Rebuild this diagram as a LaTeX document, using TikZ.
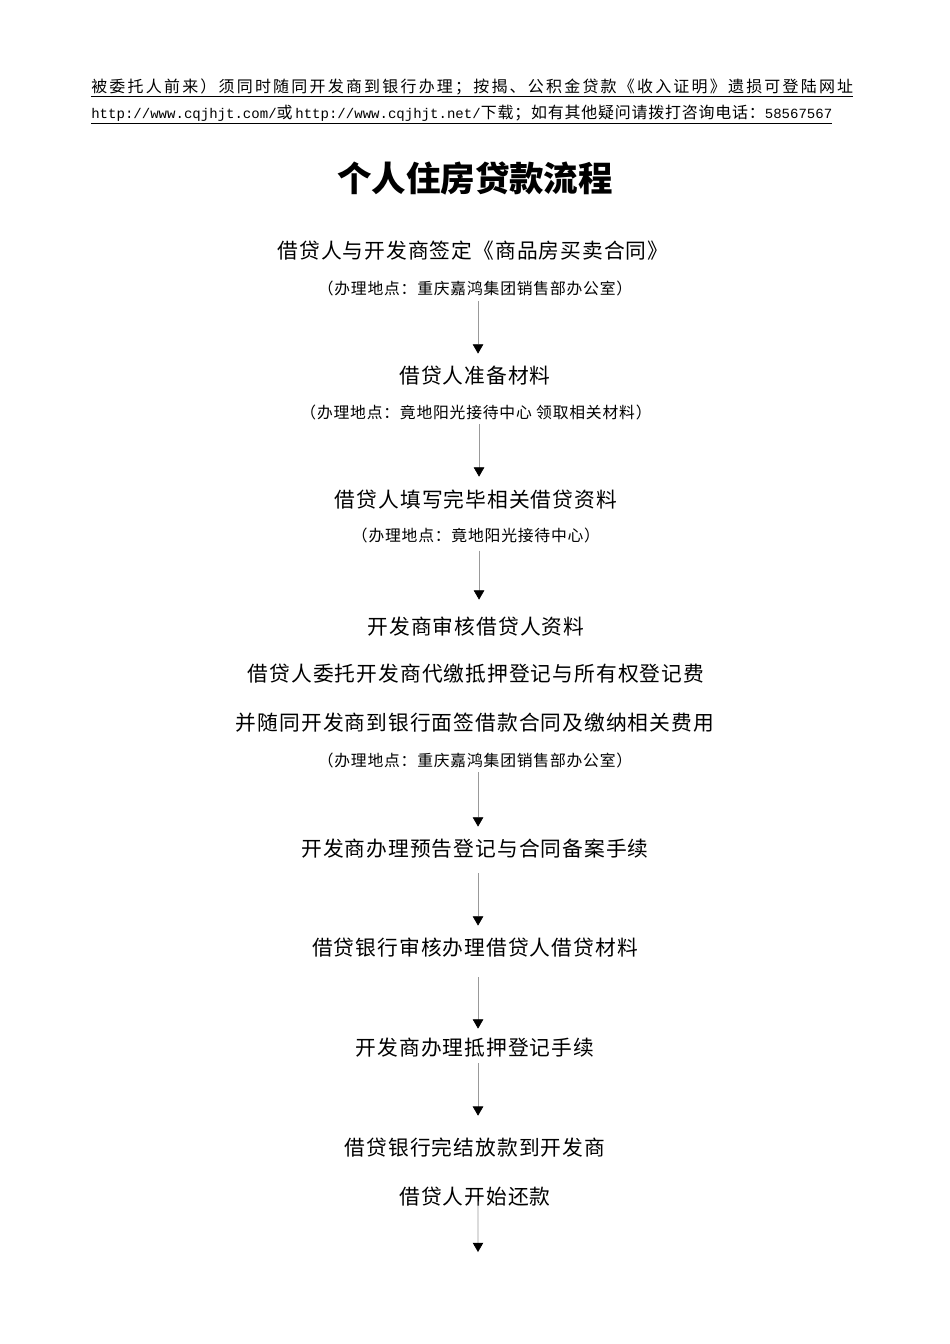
\documentclass[tikz,border=0pt]{standalone}
\usepackage{fontspec}
\setmainfont{Noto Sans CJK SC}
\newfontfamily\cjkbody[LetterSpace=5]{Noto Sans CJK SC}
\newfontfamily\cjkwide[LetterSpace=14]{Noto Sans CJK SC}
\newfontfamily\hdrmono{Liberation Mono}
\usepackage{tikz}
\usetikzlibrary{positioning,arrows.meta}
\tikzset{
    steptext/.style={
        font={\cjkbody\fontsize{13pt}{15pt}\selectfont},
        inner sep=0pt,
        text height=10.7pt,
        text depth=1pt
    },
    placetext/.style={
        font={\cjkbody\fontsize{9.9pt}{11pt}\selectfont},
        inner sep=0pt,
        text height=8.1pt,
        text depth=.8pt
    },
    notetext/.style={
        font={\fontsize{10pt}{12pt}\selectfont},
        inner sep=0pt,
        anchor=base west
    },
    titletext/.style={
        font={\bfseries\fontsize{21.6pt}{26pt}\selectfont},
        inner sep=0pt
    },
    flow/.style={draw=black!40, line width=.4pt,
        -{Triangle[width=6.6pt,length=5.8pt,color=black]}},
}
\begin{document}
\begin{tikzpicture}[x=0.6266pt, y=-0.6266pt]
\path[fill=white] (0,0) rectangle (950,1344);
% header lines
\node[notetext] (note1) at (91,92) {\cjkwide\underline{被委托人前来）须同时随同开发商到银行办理；按揭、公积金贷款《收入证明》遗损可登陆网址}};
\node[notetext] (note2) at (91,118) {\cjkbody\underline{{\hdrmono\fontsize{8.8pt}{10pt}\selectfont http://www.cqjhjt.com/}或\,{\hdrmono\fontsize{8.8pt}{10pt}\selectfont http://www.cqjhjt.net/}下载；如有其他疑问请拨打咨询电话：{\hdrmono\fontsize{8.8pt}{10pt}\selectfont 58567567}}};
\node[titletext] (title) at (475,178) {个人住房贷款流程};
% steps
\node[steptext] (step1) at (473,251) {借贷人与开发商签定《商品房买卖合同》};
\node[placetext] (place1) at (475,289) {（办理地点：重庆嘉鸿集团销售部办公室）};
\node[steptext] (step2) at (475,376) {借贷人准备材料};
\node[placetext] (place2) at (476,413) {（办理地点：竟地阳光接待中心 领取相关材料）};
\node[steptext] (step3) at (476,500) {借贷人填写完毕相关借贷资料};
\node[placetext] (place3) at (476,536) {（办理地点：竟地阳光接待中心）};
\node[steptext] (step4a) at (476,627) {开发商审核借贷人资料};
\node[steptext] (step4b) at (476,674) {借贷人委托开发商代缴抵押登记与所有权登记费};
\node[steptext] (step4c) at (475,723) {并随同开发商到银行面签借款合同及缴纳相关费用};
\node[placetext] (place4) at (475,761) {（办理地点：重庆嘉鸿集团销售部办公室）};
\node[steptext] (step5) at (475,849) {开发商办理预告登记与合同备案手续};
\node[steptext] (step6) at (475,948) {借贷银行审核办理借贷人借贷材料};
\node[steptext] (step7) at (475,1048) {开发商办理抵押登记手续};
\node[steptext] (step8a) at (475,1148) {借贷银行完结放款到开发商};
\node[steptext] (step8b) at (475,1197) {借贷人开始还款};
\coordinate (tail) at (478,1252);
% arrows
\draw[flow, shorten <=3.1pt, shorten >=8pt] ([xshift=1.9pt]place1.south) -- ([xshift=1.9pt]step2.north);
\draw[flow, shorten <=2.5pt, shorten >=8.6pt] ([xshift=1.9pt]place2.south) -- ([xshift=1.9pt]step3.north);
\draw[flow, shorten <=4.5pt, shorten >=11.1pt] ([xshift=1.9pt]place3.south) -- ([xshift=1.9pt]step4a.north);
\draw[flow, shorten <=2.5pt, shorten >=8pt] ([xshift=1.9pt]place4.south) -- ([xshift=1.9pt]step5.north);
\draw[flow, shorten <=9.2pt, shorten >=8pt] ([xshift=1.9pt]step5.south) -- ([xshift=1.9pt]step6.north);
\draw[flow, shorten <=12.3pt, shorten >=6.1pt] ([xshift=1.9pt]step6.south) -- ([xshift=1.9pt]step7.north);
\draw[flow, shorten <=3.6pt, shorten >=14.2pt] ([xshift=1.9pt]step7.south) -- ([xshift=1.9pt]step8a.north);
\draw[flow, shorten <=-3.3pt] ([xshift=1.9pt]step8b.south) -- (tail);
\end{tikzpicture}
\end{document}
